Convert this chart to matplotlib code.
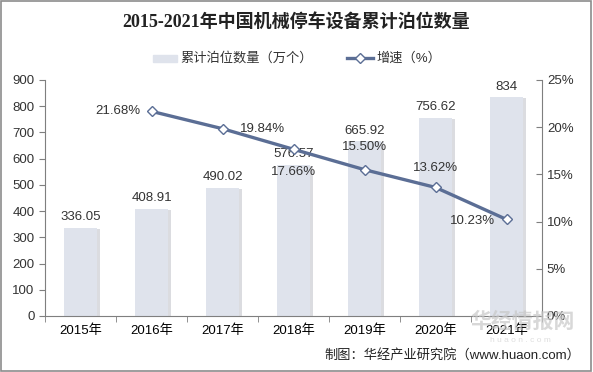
import numpy as np
import matplotlib.pyplot as plt
from matplotlib.patches import Rectangle

plt.rcParams['font.family'] = ['Liberation Sans', 'Noto Sans CJK SC', 'DejaVu Sans']

# 数据
years = ['2015年', '2016年', '2017年', '2018年', '2019年', '2020年', '2021年']
counts = [336.05, 408.91, 490.02, 576.57, 665.92, 756.62, 834]
growth_years = ['2016年', '2017年', '2018年', '2019年', '2020年', '2021年']
growth = [21.68, 19.84, 17.66, 15.50, 13.62, 10.23]

bar_color = '#dfe3ec'
line_color = '#5b6e95'
grey = '#7f7f7f'

fig = plt.figure(figsize=(5.93, 3.72), dpi=100)
ax = fig.add_axes([45 / 593, 56 / 372, 497 / 593, 236 / 372])
ax2 = ax.twinx()

x = np.arange(len(years))
# 阴影
for xi, v in zip(x, counts):
    ax.add_patch(Rectangle((xi - 0.23 + 0.04, 0), 0.46, v - 4, color='#c3c6cc',
                           alpha=0.6, zorder=1, lw=0))
ax.bar(x, counts, width=0.46, color=bar_color, zorder=2)

for xi, v in zip(x, counts):
    lab = f'{v:g}' if v != 834 else '834'
    ax.text(xi, v + 18, lab, ha='center', va='bottom', fontsize=9.5, color='#333333')

gx = np.array([years.index(g) for g in growth_years])
ax2.plot(gx, growth, color=line_color, lw=2.4, marker='D', markersize=5,
         markerfacecolor='white', markeredgecolor=line_color, markeredgewidth=1, zorder=5)

offsets = [(-0.47, 0), (0.56, 0), (0, -2.4), (0, 2.4), (0, 2.1), (-0.48, -0.2)]
for xi, g, (dx, dy) in zip(gx, growth, offsets):
    ax2.text(xi + dx, g + dy, f'{g:.2f}%', ha='center', va='center', fontsize=9.5,
             color='#333333', zorder=6)

ax.set_xlim(-0.5, len(years) - 0.5)
ax.set_ylim(0, 900)
ax.set_yticks(np.arange(0, 901, 100))
ax2.set_ylim(0, 25)
ax2.set_yticks(np.arange(0, 26, 5))
ax2.set_yticklabels([f'{t}%' for t in range(0, 26, 5)])

ax.set_xticks(x)
ax.set_xticklabels(years, fontsize=9.5)
ax.set_xticks(np.arange(-0.5, len(years)), minor=True)
ax.tick_params(axis='x', which='major', length=0, pad=6)
ax.tick_params(axis='x', which='minor', length=4, color=grey)
ax.tick_params(axis='y', length=4, color=grey, labelsize=9.5, labelcolor='#333333')
ax2.tick_params(axis='y', length=4, color=grey, labelsize=9.5, labelcolor='#333333',
                direction='in')
for a in (ax, ax2):
    for s in a.spines.values():
        s.set_color(grey)
    a.spines['top'].set_visible(False)
ax.spines['right'].set_visible(False)
ax2.spines['left'].set_visible(False)
ax2.spines['bottom'].set_visible(False)

fig.text(0.5, 1 - 22 / 372, '2015-2021年中国机械停车设备累计泊位数量', ha='center',
         va='center', fontsize=13, fontweight='bold', color='#222222',
         family=['Liberation Serif', 'Noto Sans CJK SC'])

# 图例
fig.patches.append(Rectangle((153 / 593, 1 - 62 / 372), 24 / 593, 7 / 372,
                             color=bar_color, transform=fig.transFigure))
fig.text(180 / 593, 1 - 58 / 372, '累计泊位数量（万个）', va='center', fontsize=9.5,
         color='#333333')
fig.lines.append(plt.Line2D([347 / 593, 373 / 593], [1 - 58 / 372] * 2, color=line_color,
                            lw=2.4, transform=fig.transFigure))
fig.lines.append(plt.Line2D([360 / 593], [1 - 58 / 372], color=line_color, lw=0,
                            marker='D', markersize=5, markerfacecolor='white',
                            transform=fig.transFigure))
fig.text(376 / 593, 1 - 58 / 372, '增速（%）', va='center', fontsize=9.5, color='#333333')

# 水印
fig.text(470 / 593, 1 - 322 / 372, '华经情报网', fontsize=15, fontweight='bold',
         color='#c8c8c8', alpha=0.7, ha='left', va='center', zorder=0)
fig.text(520 / 593, 1 - 340 / 372, 'h u a o n . c o m', fontsize=6,
         color='#d0d0d0', alpha=0.7, ha='center', va='center', zorder=0)
fig.text(580 / 593, 1 - 355 / 372, '制图：华经产业研究院（www.huaon.com）', ha='right',
         va='center', fontsize=9.5, color='#222222')

fig.patches.append(Rectangle((0.002, 0.003), 0.995, 0.994, fill=False, ec='#8c8c8c',
                             lw=1.2, transform=fig.transFigure))

fig.savefig('out.png', dpi=100)
